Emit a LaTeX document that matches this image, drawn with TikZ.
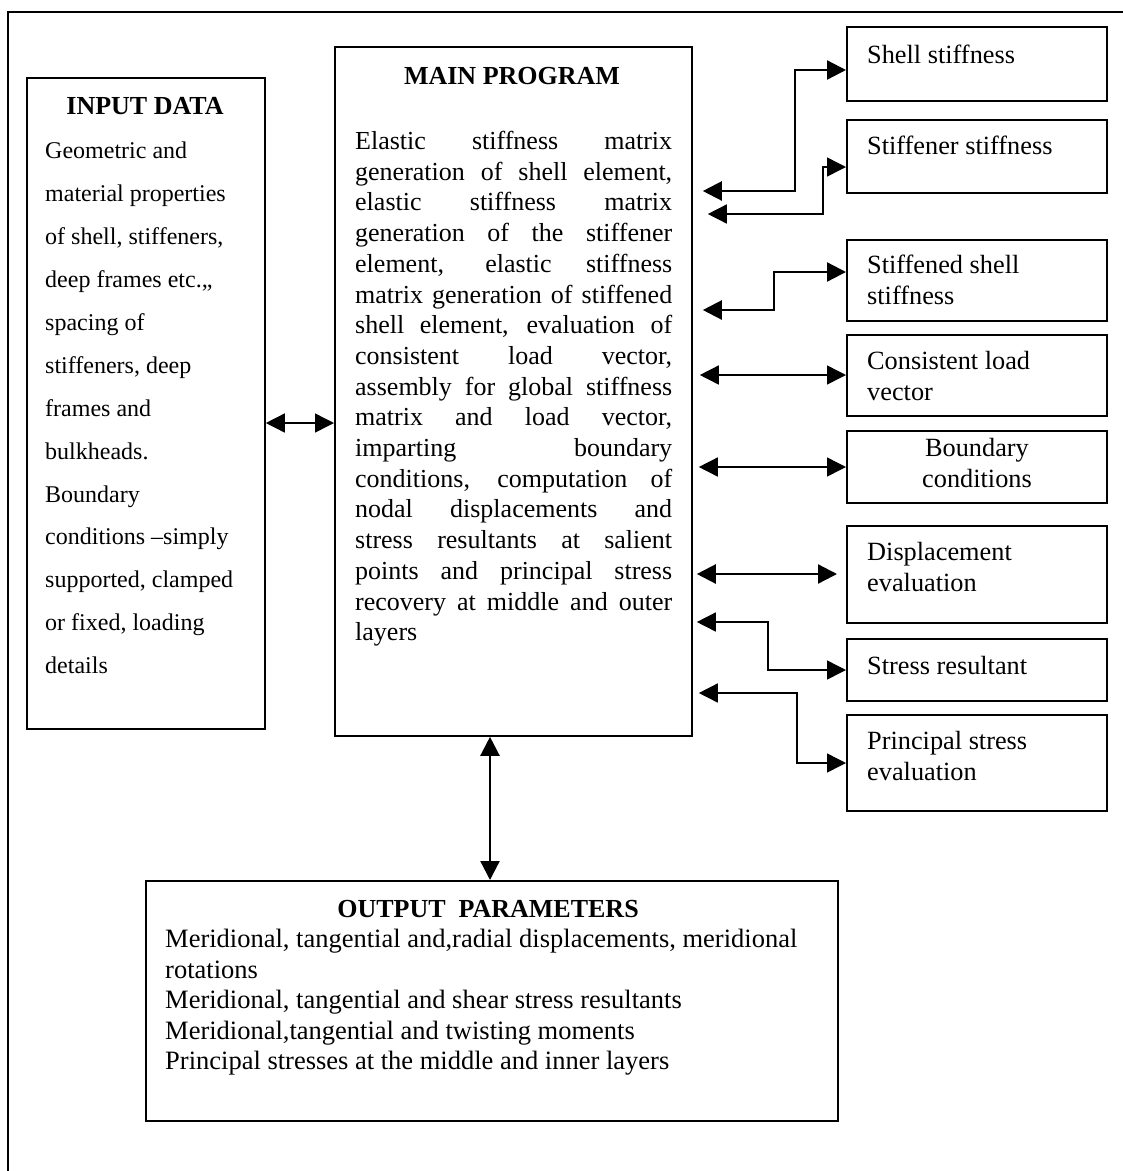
\documentclass[tikz,border=0pt]{standalone}
\usepackage{fontspec}
\setmainfont{Liberation Serif}
\usetikzlibrary{arrows.meta,calc}
\tikzset{
  box/.style={draw, line width=1.8pt, inner sep=0pt, anchor=north west},
  txt/.style={inner sep=0pt, anchor=north west, align=left, font=\fontsize{26.3}{30.7}\selectfont},
  intxt/.style={inner sep=0pt, anchor=north west, align=left, font=\fontsize{24}{42.9}\selectfont},
  ttl/.style={inner sep=0pt, anchor=base, font=\fontsize{26}{30}\selectfont\bfseries},
  dblthick/.style={line width=2.3pt, {Triangle[length=19pt,width=19pt]}-{Triangle[length=19pt,width=19pt]}},
  dblthin/.style={line width=1.5pt, {Triangle[length=19pt,width=19pt]}-{Triangle[length=19pt,width=19pt]}},
}
\begin{document}
\begin{tikzpicture}[x=1pt,y=-1pt]
\useasboundingbox (0,0) rectangle (1123,1171);
% outer frame
\draw[line width=1.5pt] (8,1175) -- (8,12) -- (1127,12);

% boxes
\node[box, minimum width=238pt, minimum height=651pt] (input) at (26,77) {};
\node[box, minimum width=357pt, minimum height=689pt] (main) at (334,46) {};
\node[box, minimum width=260pt, minimum height=74pt] (shell) at (846,26) {};
\node[box, minimum width=260pt, minimum height=73pt] (stiffener) at (846,119) {};
\node[box, minimum width=260pt, minimum height=81pt] (stiffened) at (846,239) {};
\node[box, minimum width=260pt, minimum height=81pt] (load) at (846,334) {};
\node[box, minimum width=260pt, minimum height=72pt] (bc) at (846,430) {};
\node[box, minimum width=260pt, minimum height=97pt] (disp) at (846,525) {};
\node[box, minimum width=260pt, minimum height=62pt] (stress) at (846,638) {};
\node[box, minimum width=260pt, minimum height=96pt] (princ) at (846,714) {};
\node[box, minimum width=692pt, minimum height=240pt] (output) at (145,880) {};

% titles
\node[ttl] (inputtitle) at (145,114) {INPUT DATA};
\node[ttl] (maintitle) at (512,84) {MAIN PROGRAM};
\node[ttl] (outputtitle) at (488,917) {OUTPUT\ \ PARAMETERS};

% input text
\node[intxt] (inputtext) at (45,142) {Geometric and\\
material properties\\
of shell, stiffeners,\\
deep frames etc.,,\\
spacing of\\
stiffeners, deep\\
frames and\\
bulkheads.\\
Boundary\\
conditions --simply\\
supported, clamped\\
or fixed, loading\\
details};

% main text
\node[txt, font=\fontsize{26}{30.7}\selectfont] (maintext) at (355,131) {%
\makebox[317pt][s]{Elastic stiffness matrix}\\
\makebox[317pt][s]{generation of shell element,}\\
\makebox[317pt][s]{elastic stiffness matrix}\\
\makebox[317pt][s]{generation of the stiffener}\\
\makebox[317pt][s]{element, elastic stiffness}\\
\makebox[317pt][s]{matrix generation of stiffened}\\
\makebox[317pt][s]{shell element, evaluation of}\\
\makebox[317pt][s]{consistent load vector,}\\
\makebox[317pt][s]{assembly for global stiffness}\\
\makebox[317pt][s]{matrix and load vector,}\\
\makebox[317pt][s]{imparting boundary}\\
\makebox[317pt][s]{conditions, computation of}\\
\makebox[317pt][s]{nodal displacements and}\\
\makebox[317pt][s]{stress resultants at salient}\\
\makebox[317pt][s]{points and principal stress}\\
\makebox[317pt][s]{recovery at middle and outer}\\
layers};

% right box texts
\node[txt] (shelltext) at (867,45) {Shell stiffness};
\node[txt] (stiffenertext) at (867,136) {Stiffener stiffness};
\node[txt] (stiffenedtext) at (867,255) {Stiffened shell\\stiffness};
\node[txt] (loadtext) at (867,351) {Consistent load\\vector};
\node[txt, anchor=north, align=center] (bctext) at (977,438) {Boundary\\conditions};
\node[txt] (disptext) at (867,542) {Displacement\\evaluation};
\node[txt] (stresstext) at (867,656) {Stress resultant};
\node[txt] (princtext) at (867,731) {Principal stress\\evaluation};

% output text
\node[txt, font=\fontsize{26.5}{30.5}\selectfont] (outputtext) at (165,929) {Meridional, tangential and,radial displacements, meridional\\
rotations\\
Meridional, tangential and shear stress resultants\\
Meridional,tangential and twisting moments\\
Principal stresses at the middle and inner layers};

% connectors
\draw[dblthick] ([xshift=10pt]main.east |- 0,191) -- (795,191) -- (795,70) -- (shell.west |- 0,70);
\draw[dblthin] ([xshift=15pt]main.east |- 0,214) -- (823,214) -- (823,167) -- (stiffener.west |- 0,167);
\draw[dblthick] ([xshift=10pt]main.east |- 0,310) -- (774,310) -- (774,272) -- (stiffened.west |- 0,272);
\draw[dblthin] ([xshift=7pt]main.east |- 0,375) -- (load.west |- 0,375);
\draw[dblthin] ([xshift=6pt]main.east |- 0,467) -- (bc.west |- 0,467);
\draw[dblthick] ([xshift=4pt]main.east |- 0,574) -- ([xshift=-9pt]disp.west |- 0,574);
\draw[dblthin] ([xshift=4pt]main.east |- 0,622) -- (768,622) -- (768,670) -- (stress.west |- 0,670);
\draw[dblthin] ([xshift=6pt]main.east |- 0,693) -- (797,693) -- (797,763) -- (princ.west |- 0,763);
\draw[dblthin] (input.east |- 0,423) -- (main.west |- 0,423);
\draw[dblthick] (main.south -| 490,0) -- (output.north -| 490,0);
\end{tikzpicture}
\end{document}
